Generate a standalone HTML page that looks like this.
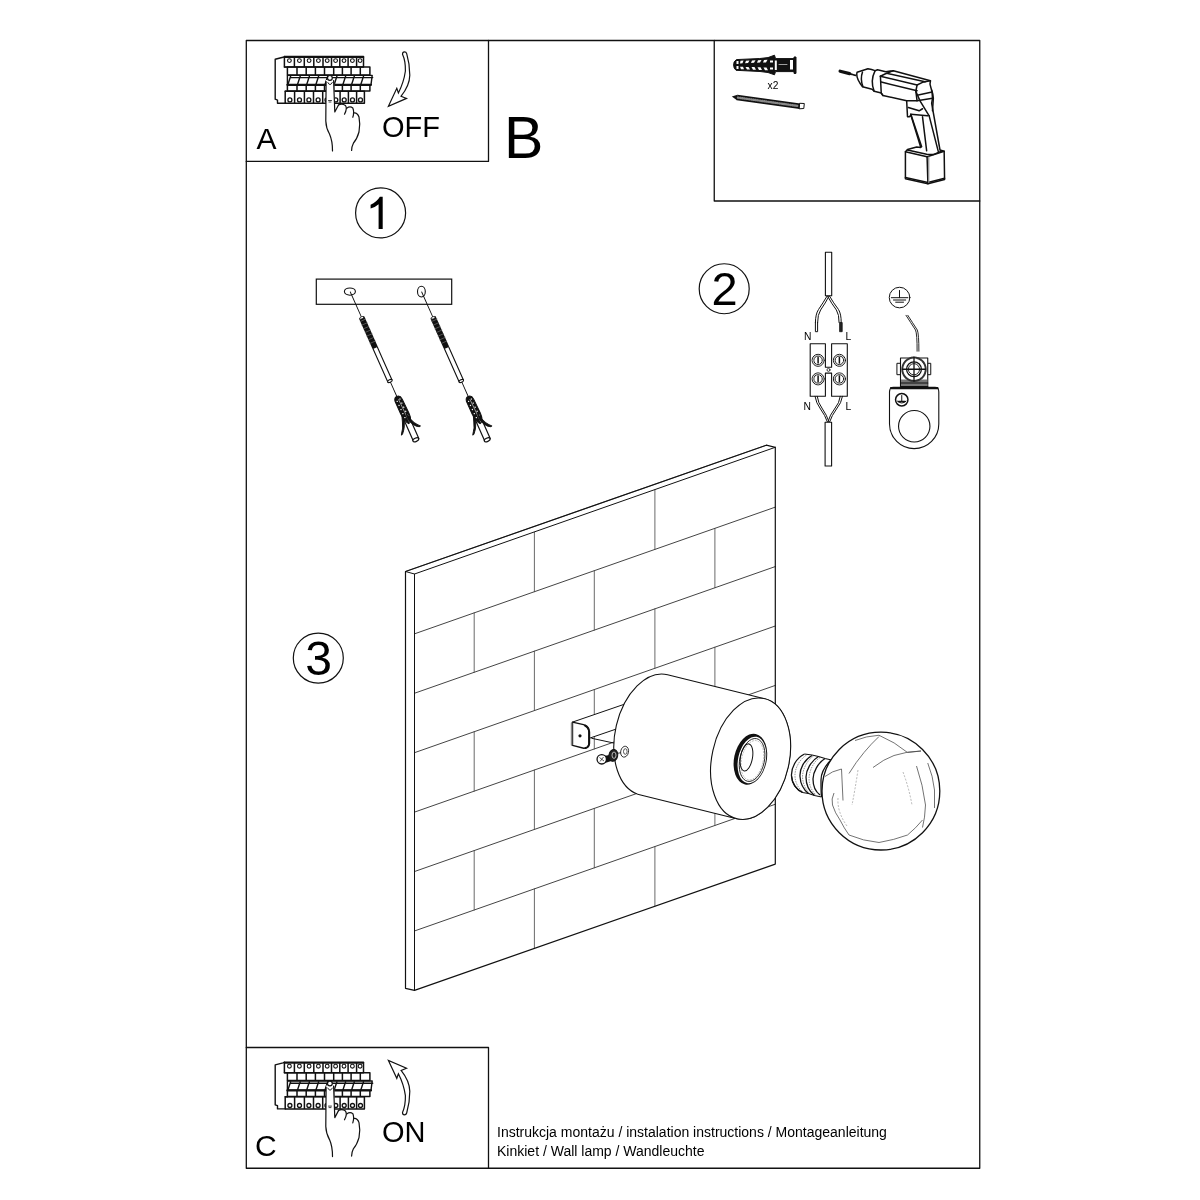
<!DOCTYPE html>
<html><head><meta charset="utf-8"><style>
html,body{margin:0;padding:0;background:#fff;width:1200px;height:1200px;overflow:hidden}
svg{display:block;will-change:transform}
text{font-family:"Liberation Sans",sans-serif;fill:#000}
</style></head><body>
<svg width="1200" height="1200" viewBox="0 0 1200 1200">
<g fill="none" stroke="#111" stroke-width="1.3" stroke-linejoin="round" stroke-linecap="round">
<!-- frame -->
<rect x="246.3" y="40.5" width="733.45" height="1127.75"/>
<path d="M488.5 40.5V161.4H246.3"/>
<path d="M714.25 40.5V201H979.75"/>
<path d="M246.3 1047.5H488.5V1168.25"/>
</g>

<!-- letters -->
<text x="256.5" y="148.8" font-size="30">A</text>
<text x="382" y="137" font-size="29">OFF</text>
<text x="504" y="157.8" font-size="59">B</text>
<text x="255" y="1156" font-size="30">C</text>
<text x="382" y="1142.4" font-size="29">ON</text>
<text x="497" y="1137" font-size="14">Instrukcja montażu / instalation instructions / Montageanleitung</text>
<text x="497" y="1156" font-size="14">Kinkiet / Wall lamp / Wandleuchte</text>

<!-- WALL -->
<g fill="none" stroke-linejoin="round" stroke-linecap="round">
<path stroke="#222" stroke-width="0.85" d="M414.5 633.83L775.3 507.13M414.5 693.26L775.3 566.56M414.5 752.69L775.3 625.99M414.5 812.11L775.3 685.41M414.5 871.54L775.3 744.84M414.5 930.97L775.3 804.27"/>
<path stroke="#444" stroke-width="0.8" d="M534.4 532.30V591.72M654.9 489.98V549.41M474.2 612.86V672.29M594.3 570.69V630.12M714.9 528.34V587.77M534.4 651.15V710.58M654.9 608.84V668.27M474.2 731.72V791.15M594.3 689.55V748.97M714.9 647.20V706.62M534.4 770.01V829.44M654.9 727.69V787.12M474.2 850.58V910.01M594.3 808.40V867.83M714.9 766.05V825.48M534.4 888.87V948.30M654.9 846.55V905.98"/>
<path stroke="#111" stroke-width="1.2" d="M405.5 988.3L405.5 571.5L766.3 445.2L775.3 447.3L775.3 864.1L414.5 990.4Z"/>
<path stroke="#111" stroke-width="0.6" d="M405.5 571.5L766.3 445.2"/>
<path stroke="#111" stroke-width="1" d="M414.5 990.4V574L775.3 447.3M405.5 571.5L414.5 574"/>
</g>

<!-- BRACKET -->
<g stroke="#111" stroke-width="1" stroke-linejoin="round" stroke-linecap="round">
<path fill="#fff" stroke="none" d="M571.5 722.1L625.8 703.75L628 716L615.8 729.2L589.2 738.3L589.2 745L587.5 747.9L584.2 748.3L571.5 745.4Z"/>
<path fill="none" d="M572.5 722.1L625.8 703.75M589.2 738.3L615.8 729.2M591.7 738.3L615 743.3"/>
<path fill="#fff" stroke-width="1.4" d="M572.5 722.1L583.5 724.6Q588.8 726.5 589 732V743.5Q588.5 748.4 583.8 748.3L572.5 745.4Z"/><path fill="none" stroke-width="2" d="M585 725.5Q589 727.5 589.2 732V743.5Q588.7 747.5 585.5 748"/>
<path fill="none" stroke="#888" stroke-width="1.6" d="M571.6 723V745"/>
<circle cx="580" cy="735.8" r="1.6" fill="#111" stroke="none"/>
</g>

<!-- CYLINDER -->
<g stroke="#111" stroke-width="1.1" stroke-linejoin="round">
<path fill="#fff" d="M667.57 674.71L764.57 698.71A38.6 61.6 12.6 0 1 736.63 818.69L639.63 794.69A38.6 61.6 12.6 0 1 667.57 674.71Z"/>
<ellipse cx="750.6" cy="758.7" rx="38.6" ry="61.6" transform="rotate(12.6 750.6 758.7)" fill="#fff"/>
<g transform="rotate(12 750.4 759.2)">
<path fill="#111" stroke="none" fill-rule="evenodd" d="M734.1 759.2A16.3 25.8 0 1 0 766.7 759.2A16.3 25.8 0 1 0 734.1 759.2ZM738.2 759.6A13.8 23.6 0 1 0 765.8 759.6A13.8 23.6 0 1 0 738.2 759.6Z"/>
<ellipse cx="752.2" cy="759.6" rx="12.3" ry="21.8" fill="none" stroke="#222" stroke-width="0.9"/>
<ellipse cx="752.5" cy="759.8" rx="10.8" ry="20" fill="none" stroke="#999" stroke-width="0.6" stroke-dasharray="2 1"/>
</g>
<ellipse cx="746.5" cy="757.4" rx="6" ry="13.7" transform="rotate(10 746.5 757.4)" fill="none" stroke-width="1"/>
</g>

<!-- SCREW & WASHER -->
<g stroke="#111" stroke-linejoin="round">
<path d="M617.5 753.3L626.7 751.7" stroke-width="0.8"/>
<ellipse cx="624.6" cy="751.7" rx="3.9" ry="5.5" transform="rotate(12 624.6 751.7)" fill="#fff" stroke-width="0.8"/>
<ellipse cx="625.3" cy="751.5" rx="1.8" ry="2.8" fill="none" stroke-width="0.7"/>
<path d="M604 756L612 754.5L613 760.5L605 763Z" fill="#111" stroke="none"/>
<ellipse cx="613.3" cy="755.4" rx="4.4" ry="6" transform="rotate(12 613.3 755.4)" fill="#222" stroke-width="1"/>
<ellipse cx="614" cy="755.2" rx="2" ry="3.2" fill="none" stroke="#ddd" stroke-width="0.8"/>
<circle cx="601.75" cy="759.3" r="4.7" fill="#fff" stroke-width="1.3"/>
<path d="M599.5 757.5L604 761M603.5 757L600 761.5" stroke-width="0.7" fill="none"/>
</g>

<!-- BULB -->
<g stroke="#111" stroke-linejoin="round" fill="none">
<path fill="#fff" stroke="none" d="M804.5 754L831.75 759L828 795L821.25 797L802.5 792.5Q790 786 791.5 774Q793 758 804.5 754Z"/>
<g stroke-width="1.3">
<path d="M804.5 754C796 758 791 768 791.5 776C792 784 797 790 802.5 792.5"/>
<path d="M812 755.5C804 760 799.5 769 800 776.5C800.5 785 804 790 808.5 793.5"/>
<path d="M818.5 756.5C811 761 806 770 806 777C806 786 810 792 814.5 795.5"/>
<path d="M825 758.5C818 763 813 772 813 779C813 787 816 792 820 795"/>
<path d="M831 760C825 766 821 773 821 780C821 788 821 793 821.5 797"/>
</g>
<g stroke-width="0.7" stroke="#666" stroke-dasharray="1.5 1">
<path d="M806.5 755C799 760 794.5 769 795 776.5C795.5 784 799 789 803.5 792.5"/>
<path d="M813.5 756C806.5 761 802.5 770 802.5 777C803 785 806 790 810 794"/>
<path d="M820 757.5C813 762 809.5 771 809 778C809 786 812 791 816 795"/>
</g>
<path stroke-width="1.2" d="M804.5 754L812 755L818.5 756.5L825 758.5L831.5 760M791.5 776Q792 787 802.5 792.5L808.5 793.5L814.5 795.5L821.5 797"/>
<circle cx="880.9" cy="791.1" r="58.9" fill="#fff" stroke-width="1.3"/>
<g stroke="#444" stroke-width="0.75">
<path d="M855 740.5Q866 736 879 735.25Q895 742 907.5 752.5L921 751"/>
<path d="M873 767.5Q884 759 894 755.5Q908 751 921 751"/>
<path d="M849 773.5Q856 762 864 752.5Q871 744 879 736.5"/>
<path d="M825 776.5Q832 771 841.5 769L843 800.5"/>
<path d="M916.5 766Q923 785 925.5 805Q925 818 922.5 827.5"/>
<path d="M927.75 763Q933 776 934.5 790V808"/>
<path d="M834 793Q831 799 832.5 805Q835 813 840 820Q844 828 849 835Q863 841 879 842.5Q894 840 907.5 835Q916 828 922.5 820"/>
</g>
<g stroke="#888" stroke-width="0.6" stroke-dasharray="2 1.5">
<path d="M903 772Q909 788 912 805"/>
<path d="M838 798Q837 812 847 826"/>
<path d="M858 770Q855 790 852 805"/>
</g>
</g>


<!-- BREAKER PANEL A -->
<defs>
<g id="panel" fill="none" stroke="#111" stroke-linejoin="round" stroke-linecap="round">
<path stroke-width="1.5" d="M284.4 56.6H363.5V67.1H284.4ZM294.4 56.6V67.1M304.3 56.6V67.1M313.8 56.6V67.1M323.0 56.6V67.1M331.5 56.6V67.1M339.8 56.6V67.1M348.1 56.6V67.1M356.6 56.6V67.1"/>
<path stroke-width="1.8" d="M284.6 57.2H363.3"/>
<circle cx="289.4" cy="60.6" r="1.9" stroke-width="1.1"/>
<circle cx="299.4" cy="60.6" r="1.9" stroke-width="1.1"/>
<circle cx="309.1" cy="60.6" r="1.9" stroke-width="1.1"/>
<circle cx="318.4" cy="60.6" r="1.9" stroke-width="1.1"/>
<circle cx="327.2" cy="60.6" r="1.9" stroke-width="1.1"/>
<circle cx="335.6" cy="60.6" r="1.9" stroke-width="1.1"/>
<circle cx="344.0" cy="60.6" r="1.9" stroke-width="1.1"/>
<circle cx="352.4" cy="60.6" r="1.9" stroke-width="1.1"/>
<circle cx="360.1" cy="60.6" r="1.9" stroke-width="1.1"/>
<path stroke-width="1.5" d="M287.4 67.1V74.9H369.9V67.1H287.4M297.0 67.1V74.9M306.2 67.1V74.9M315.4 67.1V74.9M324.5 67.1V74.9M333.7 67.1V74.9M342.4 67.1V74.9M351.1 67.1V74.9M360.3 67.1V74.9"/>
<path stroke-width="1.4" d="M287.4 75.4H372.2L371 84.6H287.4Z"/>
<path stroke-width="2.2" d="M287.4 84.8H371"/>
<path stroke-width="1.4" d="M290.6 76.2L288.0 84.2M290.4 77.6H299.8M300.2 76.2L297.6 84.2M300.0 77.6H309.0M309.4 76.2L306.8 84.2M309.2 77.6H318.2M318.6 76.2L316.0 84.2M318.4 77.6H327.3M327.7 76.2L325.1 84.2M327.5 77.6H336.5M336.9 76.2L334.3 84.2M336.7 77.6H345.2M345.6 76.2L343.0 84.2M345.4 77.6H353.9M354.3 76.2L351.7 84.2M354.1 77.6H363.1M363.5 76.2L360.9 84.2M363.3 77.6H372.7"/>
<path stroke-width="1.5" d="M287.4 85.2V90.9H369.9V85.2M297.0 85.2V90.9M306.2 85.2V90.9M315.4 85.2V90.9M324.5 85.2V90.9M333.7 85.2V90.9M342.4 85.2V90.9M351.1 85.2V90.9M360.3 85.2V90.9"/>
<path stroke-width="1.5" d="M285.2 91.2H364.4V103.3H285.2ZM294.6 91.2V103.3M304.4 91.2V103.3M313.5 91.2V103.3M322.7 91.2V103.3M331.4 91.2V103.3M340.1 91.2V103.3M348.4 91.2V103.3M356.6 91.2V103.3"/>
<circle cx="289.9" cy="99.9" r="2" stroke-width="1.3"/>
<circle cx="299.5" cy="99.9" r="2" stroke-width="1.3"/>
<circle cx="308.9" cy="99.9" r="2" stroke-width="1.3"/>
<circle cx="318.1" cy="99.9" r="2" stroke-width="1.3"/>
<circle cx="327.0" cy="99.9" r="2" stroke-width="1.3"/>
<circle cx="335.8" cy="99.9" r="2" stroke-width="1.3"/>
<circle cx="344.2" cy="99.9" r="2" stroke-width="1.3"/>
<circle cx="352.5" cy="99.9" r="2" stroke-width="1.3"/>
<circle cx="360.5" cy="99.9" r="2" stroke-width="1.3"/>
<path stroke-width="1.4" d="M284.6 56.6L283 57.3L275.2 59.3V99.2L277.5 100.1V103.3H285.3M284.4 67.1H287.4M285.2 91.2H287.4"/>
<!-- hand -->
<path fill="#fff" stroke="none" d="M326 80L334 80L335 112L339 104.5L346 105L349 106.5L353 108L354.5 112.5L358 113.5L359.5 120L359 130L354 142L352 152L332 152L330 136L326 126Z"/>
<path stroke-width="1.2" d="M326.1 81.5L325.8 121Q326 128 329.5 134Q332.6 141 332.5 151"/>
<path stroke-width="1.2" d="M333.6 80.5L334.8 112L338.5 105"/>
<path stroke-width="1.2" d="M338.5 105Q342 103 345.5 105.5Q347.5 108.5 344.5 114.2"/>
<path stroke-width="1.2" d="M346.7 108.3Q350 105.8 352.8 108Q354.5 112 352.8 117.3"/>
<path stroke-width="1.2" d="M354 112.8Q357.5 112.5 359 117Q360.5 124 359 132Q357 139 353.5 143Q351.5 147 351.6 150.5"/>
<circle cx="329.9" cy="77.9" r="2.4" fill="#fff" stroke-width="1.2"/>
<path stroke-width="0.9" d="M327.8 82.5Q330 87 332.3 82.5"/>
<path stroke-width="0.8" d="M328.5 100.5H331.5M329 102H331"/>
<!-- arrow -->
</g>
<path id="arrow" fill="#fff" stroke="#111" stroke-width="1.2" stroke-linejoin="miter" d="M402.5 54.2Q402.5 51.8 404.4 51.8Q406.2 51.8 406.7 53.6Q409.8 64 409.8 75.3Q409.6 85.6 401.1 96.2L406.5 98.4L388.4 106.2L396.8 88.3L398.4 92.9Q403.8 82.4 405.4 71Q405.6 60.7 402.5 54.2Z"/>
</defs>
<use href="#panel"/>
<use href="#arrow"/>
<use href="#panel" transform="translate(0 1005.6)"/>
<use href="#arrow" transform="translate(0 1166.6) scale(1 -1)"/>

<!-- SECTION 1: plate & screws -->
<defs>
<g id="scr" stroke="#111" stroke-linejoin="round" stroke-linecap="round">
<path d="M0 0V28" stroke-width="0.9" fill="none"/>
<rect x="-2.9" y="27.6" width="5.8" height="33.7" rx="1" fill="#111" stroke="none"/>
<path d="M-2.9 31H2.9M-2.9 35H2.9M-2.9 39H2.9M-2.9 43H2.9M-2.9 47H2.9M-2.9 51H2.9M-2.9 55H2.9" stroke="#777" stroke-width="0.6"/>
<ellipse cx="0" cy="28.2" rx="2.2" ry="1.1" fill="#fff" stroke="#111" stroke-width="0.7"/>
<path d="M-2.3 61.3V97.4M2.3 61.3V97.4" stroke-width="1.1" fill="none"/>
<ellipse cx="0" cy="97.4" rx="2.4" ry="1.3" fill="#fff" stroke-width="1.1"/>
<path d="M0 98.7V115.5" stroke-width="0.9" fill="none"/>
<path d="M-3 138V161.7M3 138V161.7" stroke-width="1.2" fill="none"/>
<ellipse cx="-0.3" cy="161.7" rx="3.1" ry="1.7" fill="#fff" stroke-width="1.2"/>
<path d="M-3.6 118Q-3 114.3 0 114.3Q3.6 114.5 3.9 119L4.3 135Q4.5 139 2.5 143L-0.2 144L-1.5 142Q-3.5 137 -3.6 132Z" fill="#111" stroke-width="1"/>
<g fill="#fff" stroke="none">
<circle cx="-1.6" cy="119" r="0.7"/><circle cx="1.8" cy="118" r="0.7"/>
<circle cx="-1.6" cy="123.5" r="0.7"/><circle cx="1.9" cy="122.5" r="0.7"/>
<circle cx="-1.5" cy="128" r="0.7"/><circle cx="2" cy="127" r="0.7"/>
<circle cx="-1.4" cy="132.5" r="0.7"/><circle cx="2.1" cy="131.5" r="0.7"/>
<circle cx="-1.2" cy="137" r="0.7"/><circle cx="2.2" cy="136" r="0.7"/>
</g>
<path d="M0.4 118L1.2 143" stroke="#fff" stroke-width="0.5" fill="none"/>
<path d="M-3.2 134Q-5.5 141 -7.5 145.5Q-10 149 -11.6 151.5L-10 151Q-7 148 -5.5 145Q-3.5 141 -2.5 138Z" fill="#111" stroke-width="0.9"/>
<path d="M1.5 134Q3 141 5 145Q7 148.5 9.6 150.8L8.5 151.2Q5.5 150 3.5 146.5Q2 143.5 1 140Z" fill="#111" stroke-width="0.9"/>
</g>
</defs>
<rect x="316.3" y="279.1" width="135.4" height="25.2" fill="none" stroke="#111" stroke-width="1.2"/>
<ellipse cx="349.9" cy="291.6" rx="5.5" ry="3.6" fill="none" stroke="#111" stroke-width="1.1"/>
<ellipse cx="421.4" cy="291.6" rx="3.9" ry="5.4" fill="none" stroke="#111" stroke-width="1.1"/>
<use href="#scr" transform="translate(350.3 292) rotate(-24)"/>
<use href="#scr" transform="translate(421.7 292) rotate(-24)"/>

<!-- SECTION 2: wiring -->
<g fill="none" stroke="#111" stroke-linejoin="round" stroke-linecap="round">
<rect x="825.4" y="252.3" width="6.3" height="43.5" stroke-width="1.1" fill="#fff"/>
<path stroke-width="1" d="M827 296.2Q823 303 818.5 309.5Q815.5 314 815.4 322.5M829 296.2Q825.5 303 820.6 310Q817.6 314.5 817.6 322.5"/>
<path stroke-width="1" d="M829.6 296.2Q833.5 303 838.5 309.5Q841.3 314 841.2 322.5M827.6 296.2Q831.5 303.5 836.4 310Q839.2 314.5 839.1 322.5"/>
<path stroke-width="1" d="M815.4 322.5V331.7H817.6V322.5"/>
<rect x="839.9" y="322.5" width="2.3" height="9.2" fill="#222" stroke-width="0.8"/>
<path stroke-width="1.1" d="M810.2 343.8H825.4V367.2H831.6V343.8H847.3V396.3H831.6V373.1H825.4V396.3H810.2Z"/>
<circle cx="828.5" cy="369.9" r="1.5" stroke-width="0.8"/>
<g stroke-width="1">
<circle cx="818.1" cy="360.3" r="6"/><circle cx="818.1" cy="360.3" r="4.3"/>
<circle cx="839.4" cy="360.3" r="6"/><circle cx="839.4" cy="360.3" r="4.3"/>
<circle cx="818.1" cy="378.9" r="6"/><circle cx="818.1" cy="378.9" r="4.3"/>
<circle cx="839.4" cy="378.9" r="6"/><circle cx="839.4" cy="378.9" r="4.3"/>
</g>
<g stroke="#bbb" stroke-width="0.7">
<circle cx="818.1" cy="360.3" r="5.1"/><circle cx="839.4" cy="360.3" r="5.1"/>
<circle cx="818.1" cy="378.9" r="5.1"/><circle cx="839.4" cy="378.9" r="5.1"/>
</g>
<path stroke-width="1.5" d="M818.1 357.5V363.1M839.4 357.5V363.1M818.1 376.1V381.7M839.4 376.1V381.7"/>
<path stroke-width="1" d="M815 396.3Q816 403 820.5 409Q825 415 827.5 422.2M817.2 396.3Q818 403 822.5 409Q826.5 414.5 829.2 422.2"/>
<path stroke-width="1" d="M842.5 396.3Q841.5 403 836.5 409Q832 415 829.5 422.2M840.3 396.3Q839.5 403 834.5 409Q830 414.5 827.8 422.2"/>
<rect x="825.1" y="422.2" width="6.5" height="43.8" stroke-width="1.1" fill="#fff"/>
</g>
<g font-size="10.3" fill="#444">
<text x="804" y="340.4">N</text><text x="845.6" y="340.4">L</text>
<text x="803.5" y="409.8">N</text><text x="845.6" y="409.8">L</text>
</g>
<!-- ground -->
<g fill="none" stroke="#111" stroke-linejoin="round" stroke-linecap="round">
<circle cx="899.55" cy="297.55" r="10.3" stroke-width="1"/>
<path stroke-width="1" d="M899.5 290.5V297.7M891.3 297.7H907.9M893.5 300H905.7M895.7 302.2H903.5"/>
<path stroke-width="0.9" d="M906 315.3Q911 323 915.5 330Q917.2 334 917.1 351.2M907.8 315.3Q912.8 323 917.3 330Q918.9 334 918.9 351.2"/>
<path stroke-width="1.1" fill="#fff" d="M889.5 392Q889.5 387.3 893.5 387.3H935Q938.8 387.3 938.8 392V424A24.65 24.65 0 0 1 889.5 424Z"/>
<path stroke-width="2.2" d="M891 388.2H937.5"/>
<circle cx="914.25" cy="426.25" r="15.7" stroke-width="1.1"/>
<circle cx="901.75" cy="399.75" r="6.2" stroke-width="1.5"/>
<path stroke-width="1" d="M901.75 395.5V401M897.5 401.2Q901.75 405 906 401.2"/>
<path stroke-width="1.6" d="M898.5 401.5H905"/>
<rect x="897.3" y="363.3" width="3.2" height="11.4" stroke-width="1" fill="#fff"/>
<rect x="927.75" y="363.3" width="3" height="11.4" stroke-width="1" fill="#fff"/>
<rect x="900.5" y="358" width="27.25" height="28.7" stroke-width="1.1" fill="#fff"/>
<rect x="901" y="379.5" width="26.3" height="7" fill="#777" stroke="none"/>
<path stroke-width="1.2" d="M900.5 383H927.7M900.5 386.7H927.7"/>
<circle cx="914" cy="369.25" r="11.7" stroke-width="2" stroke="#333" stroke-dasharray="1.2 0.5" fill="#fff"/>
<circle cx="914" cy="369.25" r="7.4" stroke-width="1.3"/>
<circle cx="914" cy="369.25" r="5.6" stroke-width="0.9"/>
<path stroke-width="1.3" d="M902.5 369.25H925.5M914 357.5V381"/>
</g>


<!-- TOOLS -->
<g stroke="#111" stroke-linejoin="round" stroke-linecap="round">
<!-- wall plug -->
<path fill="#111" stroke-width="1" d="M736 59.8Q733.4 61.5 733.6 65Q733.6 68.5 736 70.3L760 71.5L768 72.5L774.5 74.8L775.5 71.6H794V73.4H796V57H794V58.6H775.5L774.5 55.2L768 57.6L760 58.5Z"/>
<g fill="#fff" stroke="none">
<rect x="736.5" y="61" width="2" height="3"/><rect x="736.5" y="66" width="2" height="3"/>
<rect x="741" y="60.5" width="2.5" height="2.6" transform="skewX(-20)"/>
<path d="M740.5 60.8L743.5 60.6L742.5 63.3L740 63.5Z"/>
<path d="M746 60.7L749.5 60.4L748 63L745 63.3Z"/><path d="M752 60.5L755.5 60.2L754 62.8L751 63Z"/>
<path d="M758 60.3L761.5 60L760 62.6L757 62.8Z"/><path d="M764 60L767.5 59.7L766 62.4L763 62.6Z"/>
<path d="M740 66.7L743 66.7L744 69.3L741 69.3Z"/><path d="M745.5 66.9L748.5 66.9L750 69.6L747 69.6Z"/>
<path d="M751.5 67.1L754.5 67.1L756 69.8L753 69.8Z"/><path d="M757.5 67.3L760.5 67.3L762 70L759 70Z"/>
<path d="M763.5 67.5L766.5 67.5L768 70.2L765 70.2Z"/>
<rect x="770" y="60.5" width="3" height="2"/><rect x="770" y="67.5" width="3" height="2"/>
<rect x="774.8" y="60.5" width="2" height="9.5"/>
<rect x="790" y="60" width="3" height="9.5"/>
</g>
<path fill="none" stroke="#fff" stroke-width="0.6" d="M779 64.5H787"/>
<!-- screw -->
<path fill="none" stroke="#111" stroke-width="5.6" stroke-linecap="butt" d="M737 97.5L800 106.3"/>
<path fill="#111" stroke="none" d="M731.8 96.5L737.5 94.8L737 100.3Z"/>
<path fill="none" stroke="#888" stroke-width="2.4" stroke-dasharray="0.5 1.7" d="M738 97.6L799 106.1"/>
<path fill="#fff" stroke-width="1" d="M800 103.3L804.3 103.5L803.8 108.5L799.5 108.8Z"/>
</g>
<text x="767.6" y="89.2" font-size="10.2" fill="#222">x2</text>
<!-- drill -->
<g fill="none" stroke="#111" stroke-linejoin="round" stroke-linecap="round" transform="translate(835 60) scale(0.08333)">
<path stroke-width="40" d="M62 135L175 164"/>
<path stroke-width="20" stroke-dasharray="30 14" d="M175 165L250 185"/>
<g stroke-width="18">
<path fill="#fff" d="M265 148L395 105Q440 112 480 128L510 118L610 142L700 128L1145 250L1140 290L1165 385L1170 460L1160 520L1260 1080L1310 1095L1315 1435L1115 1485L845 1425L845 1100L870 1075L980 1045L1030 1050L910 660L895 680L870 680L860 490L575 425L555 395L470 375L445 350L330 320Q245 215 265 148Z"/>
<path d="M330 145Q300 230 335 318"/>
<path d="M480 130Q420 250 470 375"/>
<path d="M545 195L555 400L575 425"/>
<path d="M545 195L600 168L700 128"/>
<path d="M620 160L1080 262L1145 250"/>
<path d="M545 195L985 300L1050 268L1080 262"/>
<path d="M555 265L985 368"/>
<path d="M985 300L970 375L985 490L860 490"/>
<path d="M1000 420L1165 385M985 490L1170 460"/>
<path d="M970 375L1020 490L1130 670"/>
<path d="M880 570L1010 610L1050 585"/>
<path d="M910 650L1110 670"/>
<path d="M910 650L1040 1040"/>
<path d="M1050 680L1100 1090"/>
<path d="M1130 670L1240 1100"/>
<path d="M1160 360Q1175 400 1180 460L1170 610"/>
<path d="M845 1100L1105 1160L1115 1485"/>
<path d="M1105 1160L1310 1095"/>
<path d="M870 1080L1100 1130L1180 1135L1285 1090"/>
<path d="M845 1410L1115 1470L1315 1420"/>
<path stroke="#888" stroke-width="14" d="M1125 1165V1470"/>
</g>
</g>

<!-- numbered circles -->
<g fill="none" stroke="#111" stroke-width="1.2">
<circle cx="380.6" cy="212.9" r="25"/>
<circle cx="724.2" cy="288.75" r="25"/>
<circle cx="318.3" cy="658.1" r="25"/>
</g>
<path fill="#000" d="M378.6 229V204.2Q375.5 207 370.6 208.6V204.8Q376.6 202.2 379.9 196.8H382.7V229Z"/>
<text x="724.5" y="305" font-size="47" text-anchor="middle">2</text>
<text x="318.5" y="675.2" font-size="48" text-anchor="middle">3</text>

</svg>
</body></html>
